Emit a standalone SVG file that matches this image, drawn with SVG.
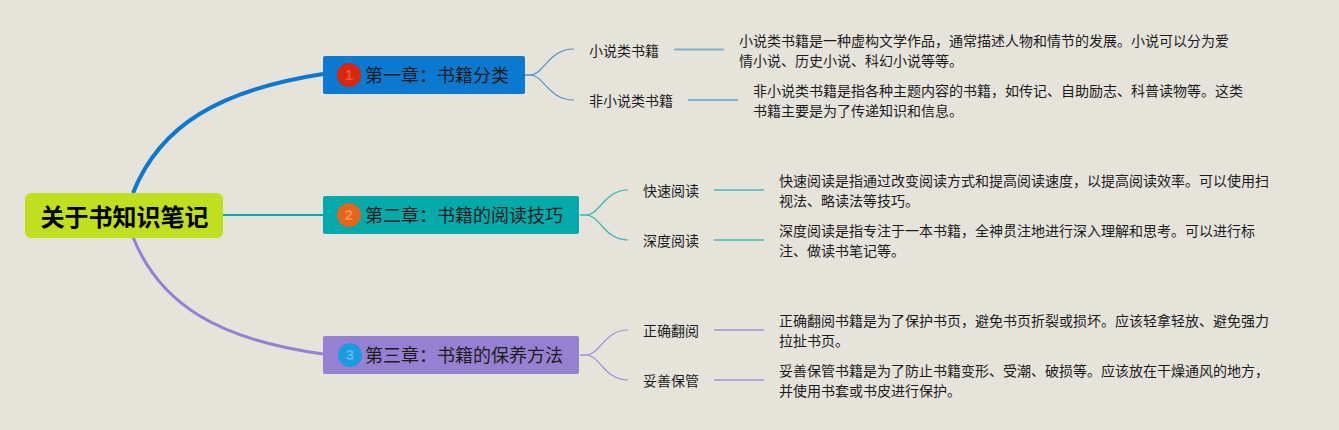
<svg xmlns="http://www.w3.org/2000/svg" width="1339" height="430" viewBox="0 0 1339 430">
<style>
text{font-family:"Noto Sans CJK SC","Liberation Sans",sans-serif;fill:#1c1c1c}
.t{font-size:18px}.s{font-size:14px}.d{font-size:14px}
.n{font-family:"Liberation Sans",sans-serif;font-size:15px;font-weight:700;text-anchor:middle}
.c{fill:none}
</style>
<rect width="1339" height="430" fill="#e6e3db"/>
<g id="connectors" class="c">
<path d="M133 193C160 125 220 90 323 74" stroke="#0b79d0" stroke-width="4" fill="none"/>
<path d="M222 215H323" stroke="#04a9a9" stroke-width="2" fill="none"/>
<path d="M133 237C160 305 220 340 323 354" stroke="#9580d2" stroke-width="3" fill="none"/>
<g fill="none" stroke-width="1.2">
<g stroke="#4f93c8"><path d="M525 75H530C544 75 548 49 574 49"/><path d="M525 75H530C544 75 548 100 574 100"/></g>
<g stroke="#38b3b3"><path d="M580 215H586C600 215 604 190 628 190"/><path d="M580 215H586C600 215 604 240 628 240"/></g>
<g stroke="#a393d6"><path d="M580 355H586C600 355 604 330 628 330"/><path d="M580 355H586C600 355 604 380 628 380"/></g>
</g>
<g fill="none" stroke-width="2">
<path d="M674 49.500H724M688 100H738" stroke="#7fb0d2"/>
<path d="M714 190H764M714 240H764" stroke="#6cc4c0"/>
<path d="M714 330H764M714 380H764" stroke="#b3a6d6"/>
</g>
</g>
<g id="root"><rect x="25" y="193" width="198" height="45" rx="6" fill="#bfdf1f"/><text x="124.500" y="226" font-size="24" font-weight="700" text-anchor="middle" style="fill:#000">关于书知识笔记</text></g>
<g id="ch1"><rect x="323" y="56" width="202" height="38" rx="2" fill="#0b79d0"/><circle cx="349" cy="75" r="12" fill="#d9260d"/><text class="n" x="349" y="80" style="fill:#e8553f">1</text><text class="t" x="365" y="82">第一章：书籍分类</text></g>
<g id="ch2"><rect x="323" y="196" width="256" height="38" rx="2" fill="#04a9a9"/><circle cx="349" cy="215" r="12" fill="#e5661a"/><text class="n" x="349" y="220" style="fill:#f0915a">2</text><text class="t" x="365" y="222">第二章：书籍的阅读技巧</text></g>
<g id="ch3"><rect x="323" y="336" width="256" height="38" rx="2" fill="#9580d2"/><circle cx="350" cy="355" r="12" fill="#1b9be0"/><text class="n" x="350" y="360" style="fill:#5cb9ea">3</text><text class="t" x="365" y="362">第三章：书籍的保养方法</text></g>
<g id="n11"><text class="s" x="589" y="56">小说类书籍</text><text class="d"><tspan x="739" y="46">小说类书籍是一种虚构文学作品，通常描述人物和情节的发展。小说可以分为爱</tspan><tspan x="739" y="66">情小说、历史小说、科幻小说等等。</tspan></text></g>
<g id="n12"><text class="s" x="589" y="106">非小说类书籍</text><text class="d"><tspan x="753" y="96">非小说类书籍是指各种主题内容的书籍，如传记、自助励志、科普读物等。这类</tspan><tspan x="753" y="116">书籍主要是为了传递知识和信息。</tspan></text></g>
<g id="n21"><text class="s" x="643" y="196">快速阅读</text><text class="d"><tspan x="779" y="186">快速阅读是指通过改变阅读方式和提高阅读速度，以提高阅读效率。可以使用扫</tspan><tspan x="779" y="206">视法、略读法等技巧。</tspan></text></g>
<g id="n22"><text class="s" x="643" y="246">深度阅读</text><text class="d"><tspan x="779" y="236">深度阅读是指专注于一本书籍，全神贯注地进行深入理解和思考。可以进行标</tspan><tspan x="779" y="256">注、做读书笔记等。</tspan></text></g>
<g id="n31"><text class="s" x="643" y="336">正确翻阅</text><text class="d"><tspan x="779" y="326">正确翻阅书籍是为了保护书页，避免书页折裂或损坏。应该轻拿轻放、避免强力</tspan><tspan x="779" y="346">拉扯书页。</tspan></text></g>
<g id="n32"><text class="s" x="643" y="386">妥善保管</text><text class="d"><tspan x="779" y="376">妥善保管书籍是为了防止书籍变形、受潮、破损等。应该放在干燥通风的地方，</tspan><tspan x="779" y="396">并使用书套或书皮进行保护。</tspan></text></g>
</svg>
